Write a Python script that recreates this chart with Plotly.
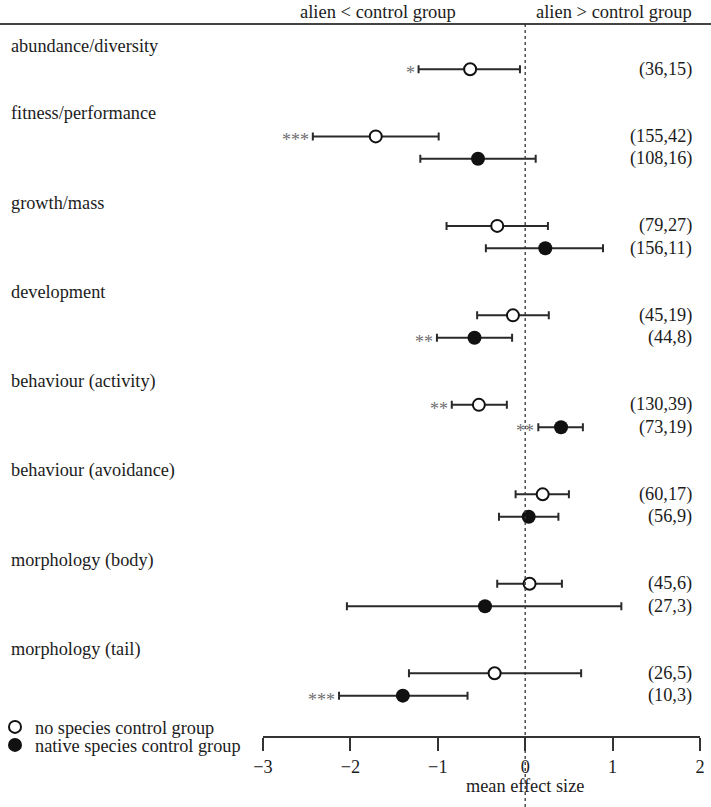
import plotly.graph_objects as go

# ---------------- data ----------------
categories = ["abundance/diversity", "fitness/performance", "growth/mass", "development",
              "behaviour (activity)", "behaviour (avoidance)", "morphology (body)", "morphology (tail)"]

# no species control group (open circles)
open_mean = [-0.63, -1.71, -0.32, -0.14, -0.53, 0.20, 0.05, -0.35]
open_lo = [-1.22, -2.43, -0.90, -0.55, -0.84, -0.11, -0.32, -1.33]
open_hi = [-0.06, -0.99, 0.26, 0.27, -0.21, 0.50, 0.42, 0.64]
open_n = ["(36,15)", "(155,42)", "(79,27)", "(45,19)", "(130,39)", "(60,17)", "(45,6)", "(26,5)"]
open_sig = ["*", "***", "", "", "**", "", "", ""]

# native species control group (filled circles); None = not available
native_mean = [None, -0.54, 0.23, -0.58, 0.41, 0.04, -0.46, -1.40]
native_lo = [None, -1.20, -0.45, -1.01, 0.15, -0.30, -2.04, -2.13]
native_hi = [None, 0.12, 0.89, -0.15, 0.66, 0.38, 1.10, -0.66]
native_n = [None, "(108,16)", "(156,11)", "(44,8)", "(73,19)", "(56,9)", "(27,3)", "(10,3)"]
native_sig = ["", "", "", "**", "**", "", "", "***"]

x_ticks = [-3, -2, -1, 0, 1, 2]
header_left = "alien < control group"
header_right = "alien > control group"
x_title = "mean effect size"
legend_open = "no species control group"
legend_native = "native species control group"

# ---------------- layout of rows ----------------
FONT = "Liberation Serif, Times New Roman, serif"
TXT = "#1c1c1c"
header_pos, open_pos, native_pos = [], [], []
u = 0
for i in range(len(categories)):
    header_pos.append(u)
    u += 1
    open_pos.append(u)
    u += 1
    if native_mean[i] is not None:
        native_pos.append(u)
        u += 1
    else:
        native_pos.append(None)
    u += 1

W, H = 711, 807
L, R, T, B = 263, 11, 0, 71
plot_h = H - T - B
row_px, row0_px = 22.37, 46.93
y_top = (0 - row0_px) / row_px
y_bot = (plot_h - row0_px) / row_px

def ppy(px):  # pixel y -> paper y
    return (plot_h - px) / plot_h

def ppx(px):  # pixel x -> paper x
    return (px - L) / (W - L - R)

fig = go.Figure()

fig.add_trace(go.Scatter(
    x=open_mean, y=open_pos, mode="markers", name=legend_open, legend="legend",
    marker=dict(symbol="circle", size=12, color="white", line=dict(color="#111", width=2)),
    error_x=dict(type="data", symmetric=False,
                 array=[h - m for h, m in zip(open_hi, open_mean)],
                 arrayminus=[m - l for m, l in zip(open_mean, open_lo)],
                 color="#2a2a2a", thickness=2, width=4),
    hoverinfo="skip"))

nidx = [i for i in range(len(categories)) if native_mean[i] is not None]
fig.add_trace(go.Scatter(
    x=[native_mean[i] for i in nidx], y=[native_pos[i] for i in nidx], mode="markers",
    name=legend_native, legend="legend2",
    marker=dict(symbol="circle", size=14, color="#111", line=dict(width=0)),
    error_x=dict(type="data", symmetric=False,
                 array=[native_hi[i] - native_mean[i] for i in nidx],
                 arrayminus=[native_mean[i] - native_lo[i] for i in nidx],
                 color="#2a2a2a", thickness=2, width=4),
    hoverinfo="skip"))

ann = []
def sig_ann(txt, x, y):
    return dict(text=txt, xref="x", x=x, xanchor="right", xshift=-2,
                yref="y", y=y, yanchor="middle", yshift=-4, showarrow=False,
                font=dict(family=FONT, size=18, color="#6f6f6f"))

for i, c in enumerate(categories):
    ann.append(dict(text=c, xref="paper", x=ppx(9), xanchor="left", yref="y", y=header_pos[i],
                    yanchor="middle", showarrow=False, yshift=1,
                    font=dict(family=FONT, size=18.3, color=TXT)))
    ann.append(dict(text=open_n[i], xref="paper", x=ppx(693.5), xanchor="right", yref="y",
                    y=open_pos[i], yanchor="middle", showarrow=False,
                    font=dict(family=FONT, size=18.3, color=TXT)))
    if open_sig[i]:
        ann.append(sig_ann(open_sig[i], open_lo[i], open_pos[i]))
    if native_mean[i] is not None:
        ann.append(dict(text=native_n[i], xref="paper", x=ppx(693.5), xanchor="right", yref="y",
                        y=native_pos[i], yanchor="middle", showarrow=False,
                        font=dict(family=FONT, size=18.3, color=TXT)))
        if native_sig[i]:
            ann.append(sig_ann(native_sig[i], native_lo[i], native_pos[i]))

ann.append(dict(text=header_left, xref="x", x=-1.68, xanchor="center", yref="paper", y=ppy(12),
                yanchor="middle", showarrow=False, font=dict(family=FONT, size=18.5, color=TXT)))
ann.append(dict(text=header_right, xref="paper", x=ppx(693.5), xanchor="right", yref="paper", y=ppy(12),
                yanchor="middle", showarrow=False, font=dict(family=FONT, size=18.5, color=TXT)))
# x-axis title placed below the tick labels
ann.append(dict(text=x_title, xref="x", x=0, xanchor="center", yref="paper", y=ppy(786),
                yanchor="middle", showarrow=False, font=dict(family=FONT, size=18.3, color=TXT)))

shapes = [
    dict(type="line", xref="paper", x0=ppx(0), x1=ppx(W), yref="paper", y0=ppy(24), y1=ppy(24),
         line=dict(color="#444", width=2)),
    dict(type="line", xref="x", x0=0, x1=0, yref="paper", y0=ppy(H), y1=ppy(24),
         line=dict(color="#333", width=1.3, dash="dot")),
]

fig.update_layout(
    width=W, height=H, margin=dict(l=L, r=R, t=T, b=B, pad=0, autoexpand=False),
    paper_bgcolor="white", plot_bgcolor="white",
    font=dict(family=FONT, size=18, color=TXT),
    xaxis=dict(range=[-3, 2], tickvals=x_ticks, showgrid=False, zeroline=False,
               showline=True, linecolor="#333", linewidth=2, ticks="outside", ticklen=13,
               tickwidth=2, tickcolor="#333", tickfont=dict(family=FONT, size=18.3, color=TXT),
               automargin=False, fixedrange=True),
    yaxis=dict(range=[y_bot, y_top], visible=False, fixedrange=True),
    showlegend=True,
    legend=dict(x=ppx(-5), xanchor="left", y=ppy(727), yanchor="middle",
                font=dict(family=FONT, size=18.3, color=TXT), bgcolor="rgba(0,0,0,0)",
                borderwidth=0, itemclick=False),
    legend2=dict(x=ppx(-5), xanchor="left", y=ppy(745), yanchor="middle",
                 font=dict(family=FONT, size=18.3, color=TXT), bgcolor="rgba(0,0,0,0)",
                 borderwidth=0, itemclick=False),
    annotations=ann, shapes=shapes,
)

fig.write_html("out.html", config={"displayModeBar": False, "staticPlot": True},
               post_script="document.body.style.margin='0px';")
